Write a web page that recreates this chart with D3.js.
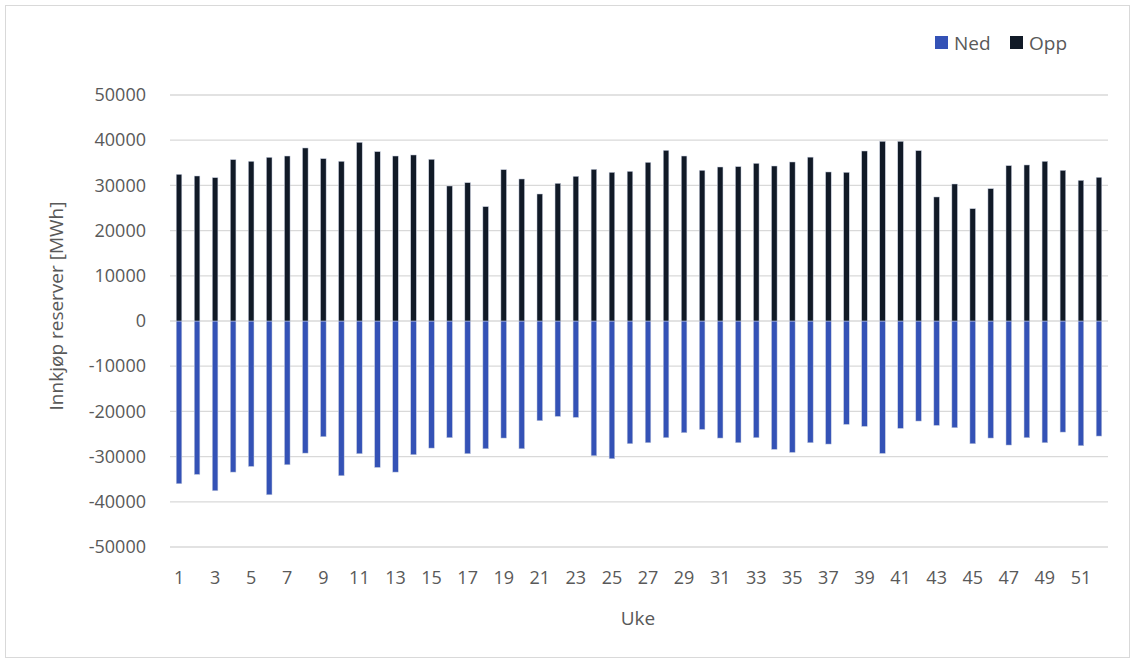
<!DOCTYPE html>
<html><head><meta charset="utf-8">
<script src="https://cdn.jsdelivr.net/npm/d3@7"></script>
<style>body{margin:0;background:#fff}svg{display:block}text{font-family:"Open Sans",sans-serif;fill:#595959}</style>
</head><body><svg id="c" width="1135" height="663"></svg>
<script>
const weeks = d3.range(1, 53);
const opp = [32450,32080,31710,35700,35330,36210,36500,38280,35920,35330,39530,37470,36500,36730,35770,29870,30600,25300,
  33480,31420,28100,30460,32010,33560,32890,33110,35100,37760,36500,33340,34070,34150,34880,34290,35180,36250,
  32970,32890,37610,39750,39750,37690,27440,30310,24850,29280,34370,34520,35330,33340,31120,31790];
const ned = [-36010,-33950,-37560,-33430,-32180,-38450,-31810,-29230,-25610,-34240,-29370,-32400,-33430,-29590,-28120,-25830,-29370,-28270,
  -25900,-28270,-22070,-21110,-21330,-29820,-30480,-27160,-26940,-25830,-24720,-23990,-25900,-26940,-25830,-28410,-29080,-26940,
  -27230,-22880,-23320,-29300,-23760,-22140,-23100,-23620,-27160,-25900,-27450,-25830,-26940,-24580,-27600,-25460];
const yTicks = [50000,40000,30000,20000,10000,0,-10000,-20000,-30000,-40000,-50000];
const xTickLabels = weeks.filter(w => w % 2 === 1);
const series = [{name:"Ned", values:ned, color:"#3452b6"},{name:"Opp", values:opp, color:"#111a27"}];

const svg = d3.select("#c");
svg.append("rect").attr("x",5.5).attr("y",5.5).attr("width",1124).attr("height",652).attr("fill","#fff").attr("stroke","#d9d9d9");

const L=170, R=1108, T=95, B=547;
const x = d3.scaleBand().domain(weeks).range([L,R]);
const y = d3.scaleLinear().domain([-50000,50000]).range([B,T]);

const g = svg.append("g");
g.selectAll("line.grid").data(yTicks).join("line").attr("class","grid")
  .attr("x1",L).attr("x2",R).attr("y1",d=>y(d)).attr("y2",d=>y(d))
  .attr("stroke","#d9d9d9").attr("stroke-width",1.3);

const yAxis = svg.append("g").attr("transform",`translate(${L},0)`)
  .call(d3.axisLeft(y).tickValues(yTicks).tickSize(0).tickPadding(24).tickFormat(d => String(d)));
yAxis.select(".domain").remove();
yAxis.selectAll("text").style("font-size","18px").attr("fill","#595959");

const bw = 5.6;
series.forEach(s => {
  svg.append("g").selectAll("rect").data(s.values).join("rect")
    .attr("x",(d,i)=>x(weeks[i])+x.bandwidth()/2-bw/2)
    .attr("width",bw)
    .attr("y",d=>y(Math.max(0,d)))
    .attr("height",d=>Math.abs(y(d)-y(0)))
    .attr("fill",s.color).attr("stroke","#c9d0e0").attr("stroke-width",0.5);
});

const xAxis = svg.append("g").attr("transform",`translate(0,${B})`)
  .call(d3.axisBottom(x).tickValues(xTickLabels).tickSize(0).tickPadding(24));
xAxis.select(".domain").remove();
xAxis.selectAll("text").style("font-size","18px").attr("fill","#595959");

svg.append("text").attr("x",638).attr("y",625).attr("text-anchor","middle").style("font-size","19px").text("Uke");
svg.append("text").attr("transform","translate(63,306) rotate(-90)").attr("text-anchor","middle").style("font-size","19px").text("Innkjøp reserver [MWh]");

const leg = svg.append("g");
const legX = [935, 1010];
series.forEach((s,i)=>{
  leg.append("rect").attr("x",legX[i]).attr("y",36).attr("width",13).attr("height",13).attr("fill",s.color);
  leg.append("text").attr("x",legX[i]+19).attr("y",50).style("font-size","19px").text(s.name);
});
</script></body></html>
